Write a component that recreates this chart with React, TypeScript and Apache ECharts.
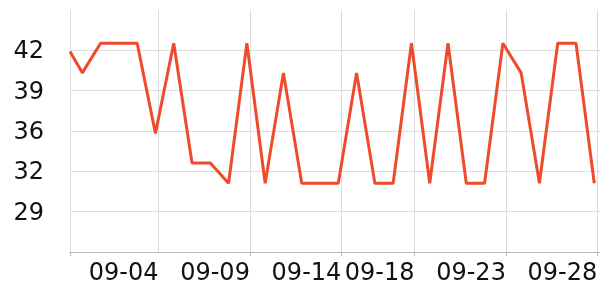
import React, { useEffect, useRef } from 'react';
import * as echarts from 'echarts';

// Timestamps of the points: the first one is the reading at the left edge of the axis
const dates = [
  '2024-08-30 07:51', '2024-08-31', '2024-09-01', '2024-09-02', '2024-09-03',
  '2024-09-04', '2024-09-05', '2024-09-06', '2024-09-07', '2024-09-08',
  '2024-09-09', '2024-09-10', '2024-09-11', '2024-09-12', '2024-09-13',
  '2024-09-14', '2024-09-15', '2024-09-16', '2024-09-17', '2024-09-18',
  '2024-09-19', '2024-09-20', '2024-09-21', '2024-09-22', '2024-09-23',
  '2024-09-24', '2024-09-25', '2024-09-26', '2024-09-27', '2024-09-28',
];
const values = [
  42.3, 40.5, 43.0, 43.0, 43.0,
  35.4, 43.0, 32.9, 32.9, 31.2,
  43.0, 31.2, 40.5, 31.2, 31.2,
  31.2, 40.5, 31.2, 31.2, 43.0,
  31.2, 43.0, 31.2, 31.2, 43.0,
  40.5, 31.2, 43.0, 43.0, 31.2,
];
// x tick labels (dates) and y tick values (labels shown rounded)
const xTickDates = ['2024-09-04', '2024-09-09', '2024-09-14', '2024-09-18', '2024-09-23', '2024-09-28'];
const yTickValues = [28.8, 32.2, 35.6, 39.0, 42.4];
const Y_MIN = 25.4;
const Y_MAX = 45.8;
const X_MIN = '2024-08-30 07:51';
const X_MAX = '2024-09-28 07:30';
const TICK_HOUR = 4;

function toTime(s: string, hour = 0, minute = 0): number {
  const [d, t] = s.split(' ');
  const [y, m, day] = d.split('-').map(Number);
  let h = hour;
  let mi = minute;
  if (t) {
    const [hh, mm] = t.split(':').map(Number);
    h = hh;
    mi = mm;
  }
  return new Date(y, m - 1, day, h, mi).getTime();
}

export default function App() {
  const ref = useRef<HTMLDivElement>(null);
  useEffect(() => {
    if (!ref.current) return;
    const chart = echarts.init(ref.current, null, { renderer: 'svg' });
    const xTicks = [toTime(X_MIN), ...xTickDates.map((d) => toTime(d, TICK_HOUR))];
    const xLabels = xTickDates.map((d) => toTime(d, TICK_HOUR));
    chart.setOption({
      animation: false,
      grid: { left: 70, right: 0, top: 10, bottom: 48, outerBoundsMode: 'none' },
      xAxis: {
        type: 'time',
        min: toTime(X_MIN),
        max: toTime(X_MAX),
        axisLine: { show: true, lineStyle: { color: '#b8b8b8', width: 1 } },
        axisTick: { show: true, length: 4, lineStyle: { color: '#b8b8b8' }, customValues: xTicks },
        splitLine: { show: true, lineStyle: { color: '#dcdcdc', width: 1 } },
        axisLabel: {
          customValues: xLabels,
          formatter: '{MM}-{dd}',
          align: 'right',
          margin: 8,
          fontSize: 24,
          color: '#111',
          fontFamily: 'DejaVu Sans',
        },
      },
      yAxis: {
        type: 'value',
        min: Y_MIN,
        max: Y_MAX,
        axisLine: { show: false },
        axisTick: { show: false, customValues: yTickValues },
        splitLine: { show: true, lineStyle: { color: '#dcdcdc', width: 1 } },
        axisLabel: {
          customValues: yTickValues,
          formatter: (v: number) => String(Math.round(v)),
          margin: 26,
          fontSize: 24,
          color: '#111',
          fontFamily: 'DejaVu Sans',
        },
      },
      series: [
        {
          type: 'line',
          data: dates.map((d, i) => [toTime(d), values[i]]),
          showSymbol: false,
          symbol: 'none',
          lineStyle: { color: '#ee4a2b', width: 3 },
          itemStyle: { color: '#ee4a2b' },
        },
      ],
    });
    return () => chart.dispose();
  }, []);
  return (
    <div
      ref={ref}
      style={{ position: 'fixed', left: 0, top: 0, width: 600, height: 300 }}
    />
  );
}
